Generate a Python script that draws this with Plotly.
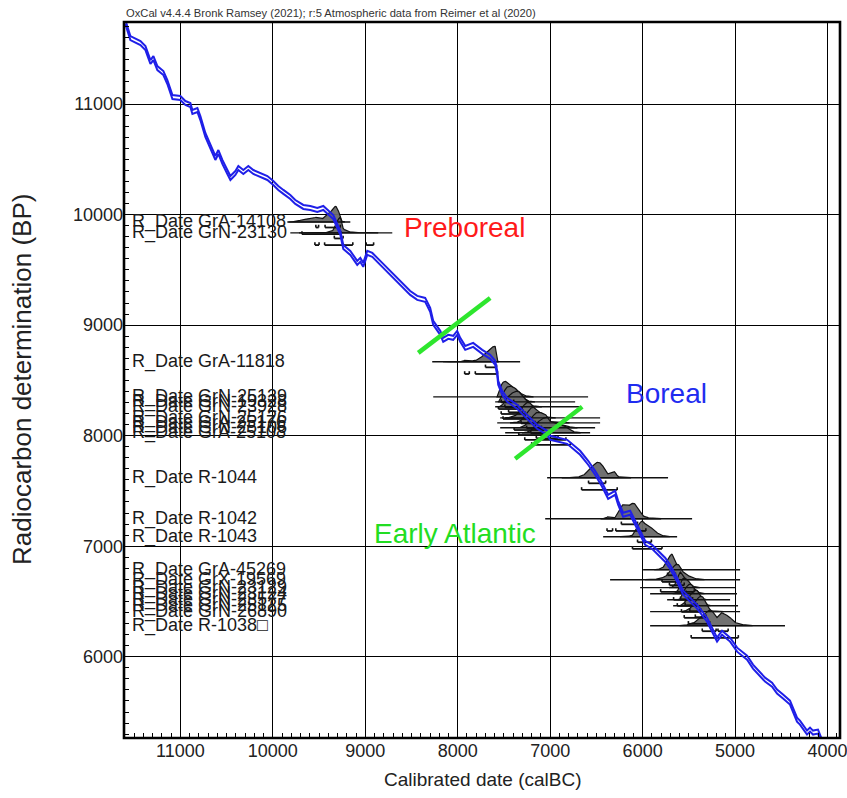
import numpy as np
import plotly.graph_objects as go

# ---------------- data ----------------
curve_cal = [11595, 11541, 11432, 11378, 11324, 11292, 11249, 11184, 11141, 11086, 11000, 10946, 10892, 10870,
             10816, 10784, 10730, 10676, 10622, 10589, 10546, 10492, 10459, 10405, 10373, 10319, 10265, 10211,
             10135, 10059, 9995, 9941, 9886, 9811, 9757, 9670, 9595, 9519, 9454, 9400, 9346, 9270, 9238, 9162,
             9087, 9054, 9022, 8979, 8924, 8838, 8730, 8654, 8589, 8514, 8438, 8352, 8298, 8265, 8189, 8157,
             8103, 8049, 8006, 7973, 7919, 7833, 7735, 7649, 7595, 7573, 7562, 7519, 7465, 7357, 7249, 7141,
             7033, 7000, 6816, 6752, 6676, 6589, 6514, 6438, 6373, 6298, 6265, 6211, 6135, 6081, 6027, 5973,
             5898, 5833, 5757, 5703, 5627, 5562, 5487, 5411, 5303, 5249, 5195, 5141, 5054, 4978, 4870, 4806,
             4752, 4676, 4600, 4546, 4481, 4406, 4330, 4298, 4222, 4189, 4157, 4103, 4060]
curve_bp = [11741, 11597, 11551, 11506, 11380, 11416, 11325, 11280, 11199, 11063, 11054, 11009, 10991, 10928,
            10946, 10873, 10720, 10611, 10512, 10566, 10476, 10385, 10331, 10376, 10421, 10385, 10421, 10385,
            10358, 10331, 10286, 10241, 10205, 10159, 10114, 10069, 10060, 10042, 10060, 10015, 9978, 9834, 9707,
            9653, 9563, 9590, 9545, 9653, 9635, 9563, 9472, 9409, 9346, 9291, 9246, 9228, 9138, 9020, 8930, 8867,
            8894, 8885, 8930, 8867, 8794, 8821, 8758, 8713, 8659, 8568, 8478, 8387, 8324, 8261, 8170, 8080,
            8026, 7981, 7944, 7899, 7845, 7755, 7664, 7556, 7447, 7483, 7393, 7285, 7303, 7212, 7122, 7031,
            6995, 6941, 6878, 6814, 6697, 6579, 6516, 6453, 6335, 6245, 6155, 6218, 6155, 6064, 5992, 5911,
            5865, 5793, 5748, 5685, 5640, 5585, 5431, 5404, 5314, 5341, 5314, 5323, 5232]
curve_sigma = 18

date_names = ["GrA-14108", "GrN-23130", "GrA-11818",
              "GrN-25139", "GrN-19328", "GrN-23928", "GrN-25126", "GrA-25176", "GrN-25106", "GrA-25108",
              "R-1044", "R-1042", "R-1043",
              "GrA-45269", "GrX-19569", "GrN-23129", "GrN-23124", "GrN-23577", "GrN-25125", "GrN-26890",
              "R-1038\u25a1"]
date_bp = [9933, 9834, 8668,
           8351, 8306, 8261, 8161, 8116, 8071, 8026,
           7619, 7248, 7086,
           6787, 6697, 6625, 6570, 6516, 6462, 6408, 6281]
date_sd = [70, 75, 60,
           70, 60, 60, 55, 55, 60, 55,
           100, 100, 80,
           55, 100, 60, 60, 50, 55, 60, 110]
line_from = [9843, 9811, 8276,
             8265, 7595, 7595, 7541, 7573, 7541, 7487,
             7033, 7054, 6427,
             5995, 6352, 6027, 5919, 5735, 5670, 5919, 5919]
line_to = [9162, 8708, 7325,
           6590, 6730, 6676, 6460, 6460, 6514, 6568,
           5725, 5465, 5627,
           4946, 4946, 5000, 4979, 5054, 4968, 4946, 4460]

period_names = ["Preboreal", "Boreal", "Early Atlantic"]
period_cal = [7925, 5746, 8027]
period_bp = [9879, 8378, 7113]
period_colors = ["#ff1a1a", "#1f2cf0", "#22dd22"]

boundary_cal = [[8427, 7649], [7379, 6654]]
boundary_bp = [[8749, 9246], [7791, 8261]]

x_range = [11610, 3865]
y_range = [5265, 11742]
header = "OxCal v4.4.4 Bronk Ramsey (2021); r:5 Atmospheric data from Reimer et al (2020)"

# ---------------- figure ----------------
fig = go.Figure()

grid = np.arange(3800.0, 11700.0, 5.0)
cc = np.interp(grid, curve_cal[::-1], curve_bp[::-1])
dist_h = 140.0


def segments(mask):
    segs = []
    i = 0
    n = len(mask)
    while i < n:
        if mask[i]:
            j = i
            while j + 1 < n and mask[j + 1]:
                j += 1
            segs.append((grid[i], grid[j]))
            i = j + 1
        else:
            i += 1
    return segs


hl_x, hl_y = [], []
bar_x, bar_y = [], []
tick_x, tick_y = [], []
for name, bp, sd, a, b in zip(date_names, date_bp, date_sd, line_from, line_to):
    s = np.sqrt(sd ** 2 + curve_sigma ** 2)
    p = np.exp(-0.5 * ((cc - bp) / s) ** 2)
    p = p / p.sum()
    pm = p.max()
    keep = np.where(p > pm * 0.004)[0]
    xs = grid[keep[0]:keep[-1] + 1]
    ys = bp + dist_h * p[keep[0]:keep[-1] + 1] / pm
    fig.add_trace(go.Scatter(
        x=np.concatenate([xs, xs[::-1]]), y=np.concatenate([ys, np.full(len(xs), bp)]),
        fill="toself", fillcolor="rgba(105,105,105,0.95)", mode="lines",
        line=dict(color="#111111", width=1.2), hoverinfo="skip", showlegend=False))
    hl_x += [a, b, None]
    hl_y += [bp, bp, None]
    order = np.argsort(-p)
    cs = np.cumsum(p[order])
    for lev, off in ((0.683, 50), (0.954, 110)):
        thr = p[order][np.searchsorted(cs, lev)]
        for s0, s1 in segments(p >= thr):
            bar_x += [s0, s1, None]
            bar_y += [bp - off, bp - off, None]
            for e in (s0, s1):
                tick_x += [e, e, None]
                tick_y += [bp - off, bp - off + 25, None]

fig.add_trace(go.Scatter(x=hl_x, y=hl_y, mode="lines", line=dict(color="#111111", width=1.4),
                         hoverinfo="skip", showlegend=False))
fig.add_trace(go.Scatter(x=bar_x, y=bar_y, mode="lines", line=dict(color="#111111", width=1.8),
                         hoverinfo="skip", showlegend=False))
fig.add_trace(go.Scatter(x=tick_x, y=tick_y, mode="lines", line=dict(color="#111111", width=1.6),
                         hoverinfo="skip", showlegend=False))

# calibration curve drawn as a double (1-sigma envelope) line
cb = np.array(curve_bp, dtype=float)
for sign in (1, -1):
    fig.add_trace(go.Scatter(x=curve_cal, y=cb + sign * curve_sigma, mode="lines",
                             line=dict(color="#1f1fe8", width=2.0), hoverinfo="skip", showlegend=False))

for bx, by in zip(boundary_cal, boundary_bp):
    fig.add_trace(go.Scatter(x=bx, y=by, mode="lines", line=dict(color="#2ee62e", width=4.5),
                             hoverinfo="skip", showlegend=False))

LAB = "Liberation Sans, Arial, sans-serif"

for name, bp in zip(date_names, date_bp):
    fig.add_annotation(x=0, xref="paper", xshift=6, xanchor="left", y=bp, yref="y", yanchor="middle",
                       text="R_Date " + name, showarrow=False, font=dict(family=LAB, size=18, color="#1a1a1a"))

for t, cx, cy, col in zip(period_names, period_cal, period_bp, period_colors):
    fig.add_annotation(x=cx, y=cy, text=t, showarrow=False, xanchor="center", yanchor="middle",
                       font=dict(family=LAB, size=28, color=col))

fig.add_annotation(x=0, xref="paper", y=1, yref="paper", yanchor="bottom", xanchor="left", yshift=1,
                   text=header, showarrow=False, font=dict(family=LAB, size=11.2, color="#333333"))
fig.add_annotation(x=0.5, xref="paper", y=0, yref="paper", yshift=-29, yanchor="top", xanchor="center",
                   text="Calibrated date (calBC)", showarrow=False, font=dict(family=LAB, size=19, color="#222222"))
fig.add_annotation(x=0, xref="paper", xshift=-102, y=0.5, yref="paper", xanchor="center", yanchor="middle",
                   textangle=-90, text="Radiocarbon determination (BP)", showarrow=False,
                   font=dict(family=LAB, size=26, color="#222222"))

axis_common = dict(showgrid=True, gridcolor="#000000", gridwidth=1.4, zeroline=False, automargin=False,
                   showline=False,
                   ticks="inside", ticklen=6, tickwidth=1.3, tickcolor="#000000",
                   tickformat="d", separatethousands=False, ticklabeloverflow="allow",
                   tickfont=dict(family=LAB, size=18, color="#222222"),
                   minor=dict(dtick=100, ticks="inside", ticklen=5, tickwidth=1.2, tickcolor="#000000",
                              showgrid=False))

fig.update_xaxes(range=x_range, tick0=0, dtick=1000, **axis_common)
fig.update_yaxes(range=y_range, tick0=0, dtick=1000, **axis_common)

# plot frame
fig.add_shape(type="rect", xref="paper", yref="paper", x0=0, x1=1, y0=0, y1=1,
              line=dict(color="#000000", width=2.6), fillcolor="rgba(0,0,0,0)", layer="above")

fig.update_layout(width=847, height=798, margin=dict(l=124, r=7, t=22, b=60, autoexpand=False),
                  plot_bgcolor="#ffffff", paper_bgcolor="#ffffff", showlegend=False)

# remove the default page margin so the figure fills the window exactly
fig.write_html("out.html", config={"displayModeBar": False},
               post_script="document.body.style.margin='0';document.body.style.overflow='hidden';")
